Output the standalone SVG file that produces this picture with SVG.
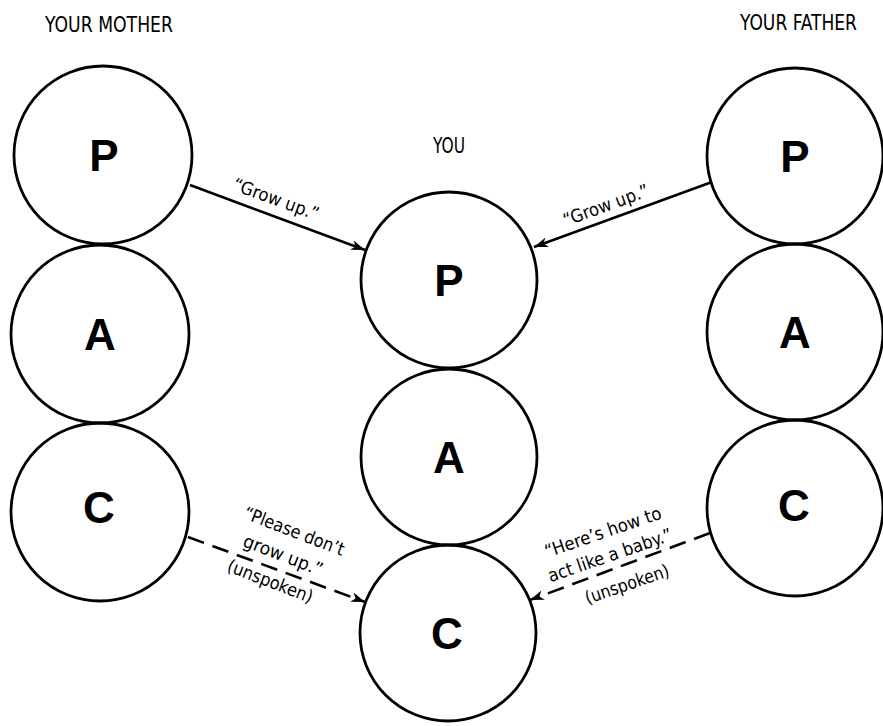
<svg xmlns="http://www.w3.org/2000/svg" width="883" height="726" viewBox="0 0 883 726">
<style>
.c{fill:none;stroke:#000;stroke-width:2.8}
.l{font-family:"Liberation Sans",Arial,sans-serif;font-weight:bold;font-size:44px;text-anchor:middle;fill:#000}
.t{font-family:"DejaVu Sans Condensed","Liberation Sans Narrow",sans-serif;font-size:18px;fill:#000;text-anchor:middle}
.h{font-family:"DejaVu Sans Condensed","Liberation Sans Narrow",sans-serif;font-size:22px;fill:#000}
.a{fill:none;stroke:#000;stroke-width:2.6}
.d{stroke-dasharray:17 9}
</style>
<defs>
<marker id="ah" markerUnits="userSpaceOnUse" markerWidth="16" markerHeight="12" refX="14" refY="5" orient="auto">
<path d="M0,0 L14,5 L0,10 L4,5 z" fill="#000"/>
</marker>
</defs>
<text class="h" x="45" y="32" textLength="128" lengthAdjust="spacingAndGlyphs">YOUR MOTHER</text>
<text class="h" x="740" y="30" textLength="117" lengthAdjust="spacingAndGlyphs">YOUR FATHER</text>
<text class="h" x="433" y="153" textLength="32" lengthAdjust="spacingAndGlyphs">YOU</text>
<g id="mother-P"><circle class="c" cx="103" cy="155" r="89"/><text class="l" x="104" y="171">P</text></g>
<g id="mother-A"><circle class="c" cx="100" cy="334" r="89"/><text class="l" x="100" y="350">A</text></g>
<g id="mother-C"><circle class="c" cx="100" cy="512" r="89"/><text class="l" x="99" y="523">C</text></g>
<g id="you-P"><circle class="c" cx="449" cy="280" r="88"/><text class="l" x="449" y="296">P</text></g>
<g id="you-A"><circle class="c" cx="449" cy="457" r="88"/><text class="l" x="449" y="473">A</text></g>
<g id="you-C"><circle class="c" cx="448" cy="633" r="88"/><text class="l" x="447" y="649">C</text></g>
<g id="father-P"><circle class="c" cx="795" cy="156" r="88"/><text class="l" x="795" y="172">P</text></g>
<g id="father-A"><circle class="c" cx="795" cy="332" r="88"/><text class="l" x="795" y="348">A</text></g>
<g id="father-C"><circle class="c" cx="795" cy="508" r="88"/><text class="l" x="794" y="521">C</text></g>
<g id="connectors">
<line class="a" x1="190" y1="185" x2="365" y2="250" marker-end="url(#ah)"/>
<line class="a" x1="712" y1="182" x2="534" y2="247" marker-end="url(#ah)"/>
<line class="a d" x1="188" y1="537" x2="365" y2="602" marker-end="url(#ah)"/>
<line class="a d" x1="710" y1="533" x2="530" y2="600" marker-end="url(#ah)"/>
<text class="t" transform="translate(274,205) rotate(20)" textLength="90" lengthAdjust="spacingAndGlyphs">“Grow up.”</text>
<text class="t" transform="translate(608,211) rotate(-20)" textLength="90" lengthAdjust="spacingAndGlyphs">“Grow up.”</text>
<text class="t" transform="translate(292,537) rotate(21)" textLength="106" lengthAdjust="spacingAndGlyphs">“Please don’t</text>
<text class="t" transform="translate(281,561) rotate(21)" textLength="84" lengthAdjust="spacingAndGlyphs">grow up.”</text>
<text class="t" transform="translate(268,587) rotate(21)" textLength="90" lengthAdjust="spacingAndGlyphs">(unspoken)</text>
<text class="t" transform="translate(605,538) rotate(-19)" textLength="122" lengthAdjust="spacingAndGlyphs">“Here’s how to</text>
<text class="t" transform="translate(612,561) rotate(-19)" textLength="130" lengthAdjust="spacingAndGlyphs">act like a baby.”</text>
<text class="t" transform="translate(629,590) rotate(-19)" textLength="88" lengthAdjust="spacingAndGlyphs">(unspoken)</text>
</g>
</svg>
